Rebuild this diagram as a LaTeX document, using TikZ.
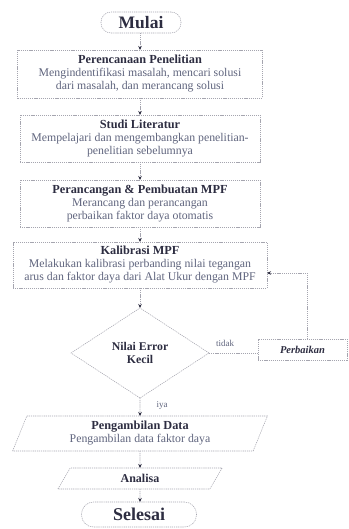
\documentclass[tikz,border=0pt]{standalone}
\usepackage{fontspec}
\setmainfont{Liberation Serif}
\usetikzlibrary{shapes.geometric,arrows.meta}
\definecolor{ttl}{RGB}{45,45,65}
\definecolor{dsc}{RGB}{95,100,125}
\definecolor{ln}{RGB}{165,165,175}
\begin{document}
\begin{tikzpicture}[x=1pt,y=-1pt,
  every node/.style={inner sep=1pt,outer sep=0pt},
  bx/.style={draw=ln,dash pattern=on 1.2pt off 0.9pt,line width=0.55pt,align=center,text=dsc,font=\fontsize{11.8}{13}\selectfont},
  term/.style={bx,rounded corners=10pt,font=\bfseries\fontsize{17.5}{19}\selectfont,text=ttl},
  para/.style={bx,trapezium,trapezium left angle=71,trapezium right angle=109,trapezium stretches=true},
  dia/.style={bx,diamond,aspect=1.53,inner sep=0pt},
  arr/.style={draw=ln,dash pattern=on 1.2pt off 0.9pt,line width=0.55pt,-{Stealth[length=4pt,width=3.5pt,color=ttl]}},
  lnk/.style={draw=ln,dash pattern=on 1.2pt off 0.9pt,line width=0.55pt},
  lbl/.style={text=dsc,font=\fontsize{9}{10}\selectfont}
]
\useasboundingbox (0,0) rectangle (348,529);
\node[term,minimum width=80,minimum height=21] (mulai) at (141,22.5) {Mulai};
\node[bx,minimum width=245,minimum height=48] (renc) at (140,74)
  {{\bfseries\fontsize{12.3}{13}\selectfont\color{ttl}Perencanaan Penelitian}\\Mengindentifikasi masalah, mencari solusi\\dari masalah, dan merancang solusi};
\node[bx,minimum width=240,minimum height=47] (studi) at (140,138.5)
  {{\bfseries\fontsize{12.3}{13}\selectfont\color{ttl}Studi Literatur}\\Mempelajari dan mengembangkan penelitian-\\penelitian sebelumnya};
\node[bx,minimum width=240,minimum height=47] (ranc) at (140,203.5)
  {{\bfseries\fontsize{12.3}{13}\selectfont\color{ttl}Perancangan \& Pembuatan MPF}\\Merancang dan perancangan\\perbaikan faktor daya otomatis};
\node[bx,minimum width=254,minimum height=46] (kal) at (140,265)
  {{\bfseries\fontsize{12.3}{13}\selectfont\color{ttl}Kalibrasi MPF}\\Melakukan kalibrasi perbanding nilai tegangan\\arus dan faktor daya dari Alat Ukur dengan MPF};
\node[dia,minimum width=138,minimum height=90,font=\bfseries\fontsize{11.8}{13}\selectfont,text=ttl] (err) at (140,353)
  {Nilai Error\\Kecil};
\node[bx,minimum width=89,minimum height=21,font=\bfseries\itshape\fontsize{10.5}{12}\selectfont,text=ttl] (perb) at (302.5,349.5) {Perbaikan};
\node[para,minimum width=255,minimum height=35] (ambil) at (140,433.5)
  {{\bfseries\fontsize{12.3}{13}\selectfont\color{ttl}Pengambilan Data}\\Pengambilan data faktor daya};
\node[para,minimum width=165,minimum height=21,font=\bfseries\fontsize{12}{13}\selectfont,text=ttl] (ana) at (140,478.5) {Analisa};
\node[term,minimum width=115,minimum height=25,rounded corners=12pt,font=\bfseries\fontsize{18}{20}\selectfont] (sel) at (139,514.5) {Selesai};
\node[lbl] (tidak) at (225,343) {tidak};
\node[lbl] (iya) at (162,405) {iya};
\coordinate (fb) at (307,273);
\draw[arr] (mulai.south -| renc.north) -- (renc);
\draw[arr] (renc) -- (studi);
\draw[arr] (studi) -- (ranc);
\draw[arr] (ranc) -- (kal);
\draw[arr] (kal) -- (err);
\draw[arr] (err) -- (ambil);
\draw[arr] (ambil) -- (ana);
\draw[arr] (ana) -- (sel.north -| ana.south);
\draw[lnk] (err.east) -- (err.east -| perb.west);
\draw[arr] (perb.north -| fb) -- (fb) -- (fb -| kal.east);
\end{tikzpicture}
\end{document}
